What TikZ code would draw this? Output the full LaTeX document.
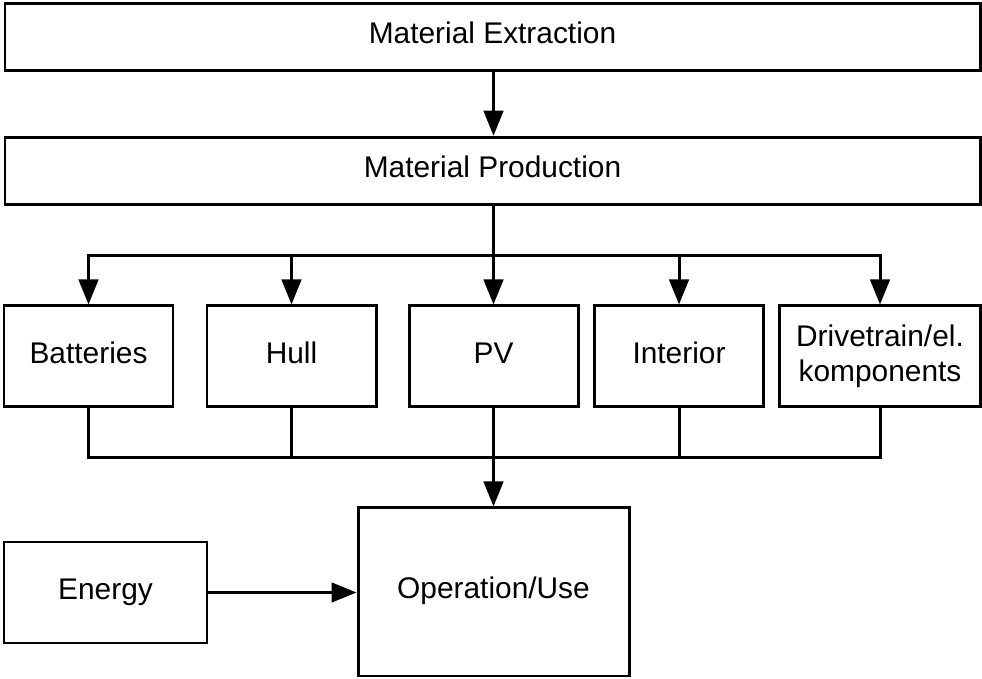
\documentclass[tikz,border=0pt]{standalone}
\usepackage{fontspec}
\setmainfont{Liberation Sans}
\usetikzlibrary{arrows.meta}
\begin{document}
\begin{tikzpicture}
\tikzstyle{block}=[draw=black, line width=1.7pt, fill=white, minimum width=3.38cm, minimum height=2.02cm, inner sep=0pt, align=center, font=\fontsize{17}{20}\selectfont]
\tikzstyle{oneline}=[text height=0.45cm, text depth=0.18cm]
\tikzstyle{wideblock}=[block, oneline, minimum width=19.5cm, minimum height=1.35cm]
\tikzstyle{arrow}=[line width=1.7pt, -{Triangle[length=5mm, width=3.9mm]}]
\tikzstyle{wire}=[line width=1.7pt]
\useasboundingbox (0,0) rectangle (19.64,13.58);

\node [wideblock] (extr) at (9.85,12.84) {Material Extraction};
\node [wideblock] (prod) at (9.85,10.16) {Material Production};

\node [block, oneline] (batt) at (1.77,6.45) {Batteries};
\node [block, oneline] (hull) at (5.83,6.45) {Hull};
\node [block, oneline] (pv) at (9.87,6.45) {PV};
\node [block, oneline] (inter) at (13.58,6.45) {Interior};
\node [block, minimum width=4.02cm] (drive) at (17.6,6.45) {Drivetrain/el.\\komponents};

\node [block, oneline, minimum width=4.06cm] (energy) at (2.11,1.73) {Energy};
\node [block, oneline, minimum width=5.42cm, minimum height=3.36cm] (oper) at (9.87,1.74) {Operation/Use};

\coordinate (split) at (9.87,8.46);
\coordinate (join) at (9.87,4.42);

\draw [arrow] (extr.south -| pv) -- (prod.north -| pv);
\draw [wire] (prod.south -| split) -- (split);
\foreach \n in {batt,hull,pv,inter,drive} {
\draw [arrow] (split) -| (\n.north);
\draw [wire] (\n.south) |- (join);
}
\draw [arrow] (join) -- (oper.north);
\draw [arrow] (energy.east) -- (energy.east -| oper.west);

\end{tikzpicture}
\end{document}
